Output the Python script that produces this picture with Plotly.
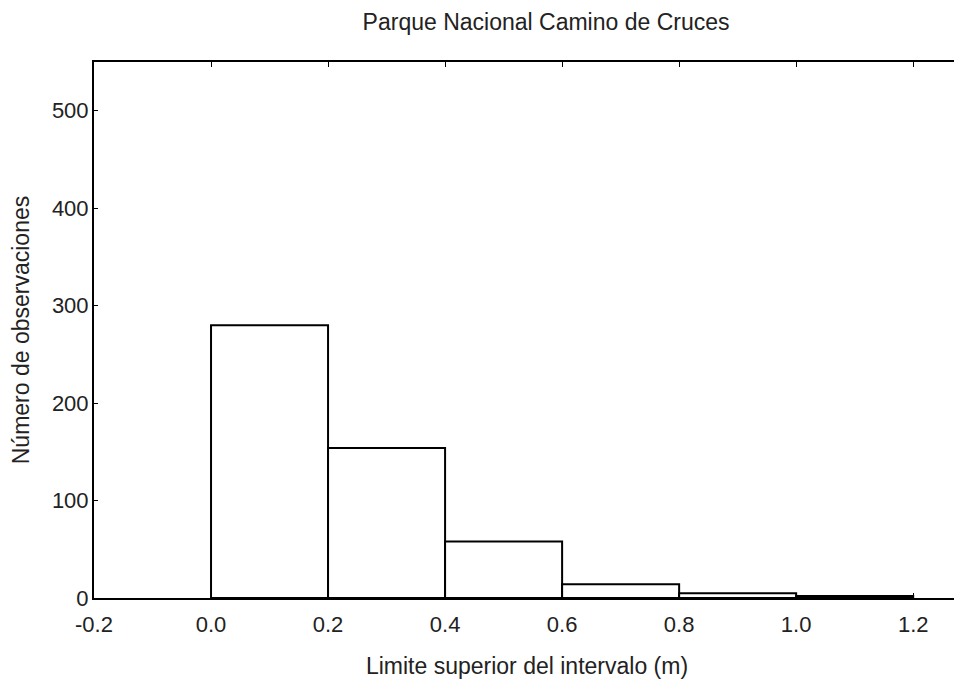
import plotly.graph_objects as go

bin_lower = [0.0, 0.2, 0.4, 0.6, 0.8, 1.0]
bin_width = 0.2
counts = [280, 154, 58, 14, 5, 2]
x_ticks = [-0.2, 0.0, 0.2, 0.4, 0.6, 0.8, 1.0, 1.2]
x_tick_text = ["-0.2", "0.0", "0.2", "0.4", "0.6", "0.8", "1.0", "1.2"]
y_ticks = [0, 100, 200, 300, 400, 500]

centers = [b + bin_width / 2 for b in bin_lower]

fig = go.Figure(go.Bar(
    x=centers, y=counts, width=[bin_width] * len(counts),
    marker=dict(color="white", line=dict(color="black", width=2)),
))

font = "Liberation Sans, Arial, sans-serif"
txt = "#222"
fig.update_layout(
    width=954, height=680,
    paper_bgcolor="white", plot_bgcolor="white",
    margin=dict(l=86, r=2, t=54, b=90),
    showlegend=False,
    font=dict(family=font, color=txt),
    title=dict(text="Parque Nacional Camino de Cruces", x=0.564, xanchor="center",
               xref="container", y=0.979, yanchor="middle",
               font=dict(size=23, family=font, color=txt)),
)
fig.update_xaxes(
    range=[-0.2, 1.28], tickvals=x_ticks, ticktext=x_tick_text,
    showgrid=False, zeroline=False, showline=True, linecolor="black", linewidth=2,
    mirror="ticks", ticks="inside", ticklen=5, tickcolor="black",
    tickfont=dict(size=22, family=font, color=txt),
    ticklabelstandoff=6, automargin=False,
    title=dict(text="Limite superior del intervalo (m)", font=dict(size=23, family=font, color=txt),
               standoff=21),
)
fig.update_yaxes(
    range=[0, 550], tickvals=y_ticks,
    showgrid=False, zeroline=False, showline=True, linecolor="black", linewidth=2,
    mirror="ticks", ticks="inside", ticklen=4, tickcolor="black",
    tickfont=dict(size=22, family=font, color=txt),
    ticklabelstandoff=-1, automargin=False,
    title=dict(text="Número de observaciones", font=dict(size=23, family=font, color=txt),
               standoff=16),
)

fig.write_html("out.html")
